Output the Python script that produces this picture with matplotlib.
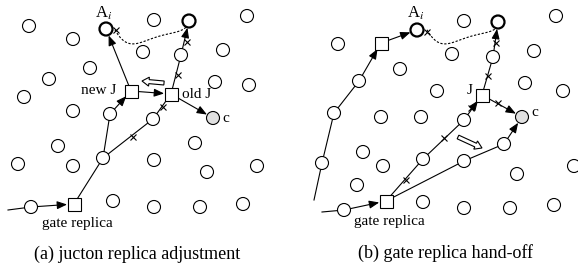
import numpy as np
import matplotlib.pyplot as plt
from matplotlib.patches import Circle, Rectangle, FancyArrowPatch, FancyArrow

plt.rcParams['font.family'] = 'Liberation Serif'
plt.rcParams['mathtext.fontset'] = 'stix'

R = 6.5      # node radius (px)
S = 6.5      # half side of replica squares

# ---------------- panel (a) : juncton replica adjustment ----------------
a_plain = [(29, 26), (73, 39), (154, 20), (247, 16), (143, 52), (223, 50), (90, 68),
           (49, 79), (24, 97), (73, 111), (215, 82), (249, 85), (58, 146), (18, 164),
           (73, 166), (154, 160), (195, 143), (207, 172), (257, 166), (113, 201),
           (154, 207), (200, 207), (243, 204),
           (31, 207), (103, 158), (110, 114), (153, 119), (181, 55)]
a_bold = [(106, 29), (189, 21)]
a_gray = [(213, 118)]
a_squares = [(74, 204), (131, 91), (171, 94)]
a_lines = [((8, 210), (31, 207)), ((74, 204), (103, 158)), ((103, 158), (110, 114)),
           ((103, 158), (153, 119)), ((153, 119), (171, 94)), ((171, 94), (181, 55))]
a_arrows = [((31, 207), (74, 204)), ((110, 114), (131, 91)), ((131, 91), (106, 29)),
            ((131, 91), (171, 94)), ((171, 94), (213, 118)), ((181, 55), (189, 21))]
a_cross = [(133, 137), (163, 107), (178, 75), (187, 42), (116, 30)]
a_wave = [(115, 30), (127, 42), (139, 44), (151, 39), (163, 34), (176, 33), (186, 27)]

# ---------------- panel (b) : gate replica hand-off ----------------
b_plain = [(338, 44), (464, 21), (556, 16), (452, 54), (534, 51), (400, 69), (437, 91),
           (525, 83), (563, 91), (381, 117), (421, 117), (363, 152), (383, 166),
           (357, 185), (517, 174), (574, 166), (423, 202), (464, 208), (510, 208),
           (554, 205),
           (359, 81), (334, 113), (322, 163), (344, 210), (423, 159), (464, 120),
           (493, 57), (464, 161), (504, 144)]
b_bold = [(417, 30), (498, 22)]
b_gray = [(522, 117)]
b_squares = [(381, 43), (482, 95), (386, 201)]
b_lines = [((314, 200), (322, 163)), ((322, 163), (334, 113)), ((334, 113), (359, 81)),
           ((322, 212), (344, 210)), ((386, 201), (423, 159)), ((423, 159), (464, 120)),
           ((482, 95), (493, 57)), ((386, 201), (464, 161)),
           ((464, 161), (504, 144))]
b_arrows = [((359, 81), (381, 43)), ((381, 43), (417, 30)), ((344, 210), (386, 201)),
            ((493, 57), (498, 22)), ((482, 95), (522, 117)), ((504, 144), (522, 117)),
            ((464, 120), (482, 95))]
b_cross = [(406, 180), (444, 138), (471, 108), (488, 76), (496, 43), (498, 103), (427, 32)]
b_wave = [(427, 30), (439, 42), (451, 44), (463, 39), (475, 34), (488, 33), (497, 27)]

fig = plt.figure(figsize=(5.78, 2.66), dpi=100)
ax = fig.add_axes([0, 0, 1, 1])
ax.set_xlim(0, 578)
ax.set_ylim(266, 0)
ax.set_aspect('equal')
ax.axis('off')


def draw_nodes(plain, bold, gray, squares):
    for x, y in plain:
        ax.add_patch(Circle((x, y), R, fc='white', ec='black', lw=0.8, zorder=3))
    for x, y in bold:
        ax.add_patch(Circle((x, y), R, fc='white', ec='black', lw=1.6, zorder=3))
    for x, y in gray:
        ax.add_patch(Circle((x, y), R, fc='#e0e0e0', ec='black', lw=0.8, zorder=3))
    for x, y in squares:
        ax.add_patch(Rectangle((x - S, y - S), 2 * S, 2 * S, fc='white', ec='black',
                               lw=0.8, zorder=3))


def draw_edges(lines, arrows, cross):
    for p, q in lines:
        ax.plot([p[0], q[0]], [p[1], q[1]], color='black', lw=0.8, zorder=2)
    for p, q in arrows:
        ax.add_patch(FancyArrowPatch(p, q, arrowstyle='-|>,head_length=0.5,head_width=0.2',
                                     mutation_scale=12, color='black', lw=0.8,
                                     shrinkA=0, shrinkB=5, zorder=2))
    cx, cy = zip(*cross)
    ax.plot(cx, cy, 'x', color='black', ms=4.5, mew=0.8, zorder=4)


def draw_wave(pts):
    xs, ys = zip(*pts)
    t = np.linspace(0, 1, len(xs))
    tt = np.linspace(0, 1, 80)
    # smooth through the points with a polynomial fit
    px = np.polyfit(t, xs, 4)
    py = np.polyfit(t, ys, 4)
    ax.plot(np.polyval(px, tt), np.polyval(py, tt), color='black', lw=0.8,
            ls=(0, (2, 1.5)), zorder=2)


draw_nodes(a_plain, a_bold, a_gray, a_squares)
draw_edges(a_lines, a_arrows, a_cross)
draw_wave(a_wave)
draw_nodes(b_plain, b_bold, b_gray, b_squares)
draw_edges(b_lines, b_arrows, b_cross)
draw_wave(b_wave)

# hollow "movement" arrows
ax.add_patch(FancyArrow(164, 83, -22, -2, width=4, head_width=9, head_length=7,
                        length_includes_head=True, fc='white', ec='black', lw=0.8,
                        zorder=4))
ax.add_patch(FancyArrow(458, 137, 24, 11, width=4, head_width=9, head_length=7,
                        length_includes_head=True, fc='white', ec='black', lw=0.8,
                        zorder=4))

fs = 11
ax.text(104, 13, r'A$_i$', fontsize=12, ha='center', va='center')
ax.text(416, 13, r'A$_i$', fontsize=12, ha='center', va='center')
ax.text(116, 91, 'new J', fontsize=fs, ha='right', va='center')
ax.text(182, 94, 'old J', fontsize=fs, ha='left', va='center')
ax.text(222, 119, 'c', fontsize=fs, ha='left', va='center')
ax.text(473, 91, 'J', fontsize=fs, ha='right', va='center')
ax.text(531, 113, 'c', fontsize=fs, ha='left', va='center')
ax.text(77, 223, 'gate replica', fontsize=fs, ha='center', va='center')
ax.text(389, 222, 'gate replica', fontsize=fs, ha='center', va='center')
ax.text(137, 254, '(a) jucton replica adjustment', fontsize=13, ha='center', va='center')
ax.text(446, 253, '(b) gate replica hand-off', fontsize=13, ha='center', va='center')

fig.savefig('out.png', dpi=100)
